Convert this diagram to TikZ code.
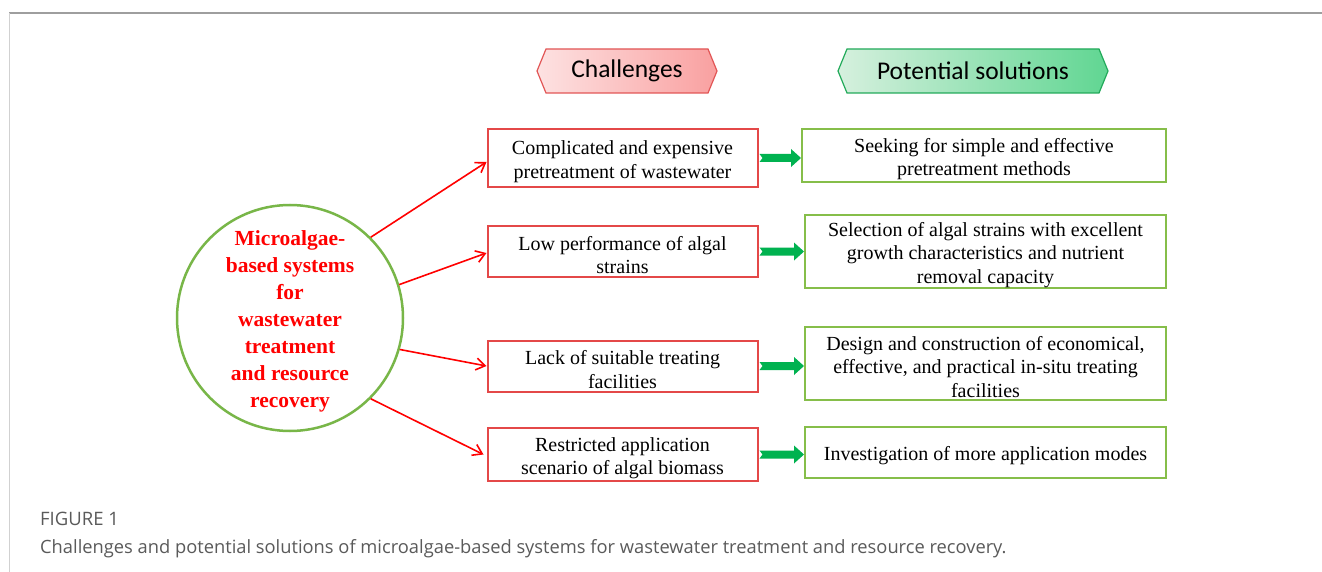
\documentclass[tikz,border=0pt]{standalone}
\usepackage{fontspec}
\setmainfont{Liberation Serif}
\newfontfamily\hdfont{Carlito}
\newfontfamily\capfont{Open Sans}
\usetikzlibrary{arrows.meta,calc,shapes.geometric}

\definecolor{boxred}{RGB}{228,72,72}
\definecolor{boxgreen}{RGB}{134,190,74}
\definecolor{ringgreen}{RGB}{120,182,72}
\definecolor{arrgreen}{RGB}{0,178,80}
\definecolor{hexredL}{RGB}{253,226,226}
\definecolor{hexredR}{RGB}{249,160,160}
\definecolor{hexredB}{RGB}{226,86,86}
\definecolor{hexgrnL}{RGB}{214,240,222}
\definecolor{hexgrnR}{RGB}{96,214,146}
\definecolor{hexgrnB}{RGB}{34,170,90}
\definecolor{capgray}{RGB}{90,90,90}

\tikzset{
  chbox/.style={draw=boxred, line width=2pt, minimum width=270pt, inner sep=0pt},
  solbox/.style={draw=boxgreen, line width=2pt, minimum width=361pt, inner sep=0pt},
  boxtext/.style={align=center, font=\fontsize{20}{23.5}\selectfont, inner sep=0pt},
  redarrow/.style={draw=red, line width=1.6pt, -{Straight Barb[length=9pt,width=12pt,line width=1.6pt]}},
  fatarrow/.style={fill=arrgreen, draw=none},
  hexlabel/.style={font=\hdfont\fontsize{25.5}{30}\selectfont, inner sep=0pt}
}

% green block arrow between two boxes, drawn as a polygon
\newcommand{\fatarr}[2]{%
  \path let \p1=(#1.east), \p2=(#2.west) in
    [fatarrow] (\x1+1pt,\y1-4pt) -- (\x2-10pt,\y1-4pt) -- (\x2-10pt,\y1-9pt)
    -- (\x2,\y1) -- (\x2-10pt,\y1+9pt) -- (\x2-10pt,\y1+4pt) -- (\x1+1pt,\y1+4pt)
    -- (\x1+4pt,\y1) -- cycle;}

\begin{document}
\begin{tikzpicture}[x=1pt,y=-1pt]
\useasboundingbox (0,0) rectangle (1322,572);
\fill[white] (0,0) rectangle (1322,572);

% panel frame
\draw[color=black!38, line width=1.4pt] (9,13) -- (1322,13);
\draw[color=black!18, line width=1pt] (9,13) -- (9,572);

% column headers (hexagons)
\shade[left color=hexredL, right color=hexredR, draw=hexredB, line width=1.2pt]
  (537,71) -- (546,49) -- (708,49) -- (717,71) -- (708,93) -- (546,93) -- cycle;
\node[hexlabel] (hch) at (627,71) {Challenges};
\shade[left color=hexgrnL, right color=hexgrnR, draw=hexgrnB, line width=1.2pt]
  (838,71) -- (847,49) -- (1099,49) -- (1108,71) -- (1099,93) -- (847,93) -- cycle;
\node[hexlabel] (hps) at (973,71) {Potential solutions};

% central circle
\node[circle, draw=ringgreen, line width=2.5pt, minimum size=226pt, inner sep=0pt] (c) at (290,318) {};
\node[align=center, text=red, font=\bfseries\fontsize{21.5}{27}\selectfont] (ct) at (290,321)
  {Microalgae-\\based systems\\for\\wastewater\\treatment\\and resource\\recovery};

% challenge boxes
\node[chbox, minimum height=58pt] (r1) at (622.5,158) {};
\node[chbox, minimum height=51pt] (r2) at (622.5,251.5) {};
\node[chbox, minimum height=51pt] (r3) at (622.5,366) {};
\node[chbox, minimum height=53pt] (r4) at (622.5,454.5) {};
\node[boxtext] (t1) at ([yshift=-3.5pt]r1.center) {Complicated and expensive\\pretreatment of wastewater};
\node[boxtext] (t2) at ([yshift=-3.5pt]r2.center) {Low performance of algal\\strains};
\node[boxtext] (t3) at ([yshift=-3.5pt]r3.center) {Lack of suitable treating\\facilities};
\node[boxtext] (t4) at ([yshift=-3.5pt]r4.center) {Restricted application\\scenario of algal biomass};

% solution boxes
\node[solbox, minimum width=364pt, minimum height=53pt] (g1) at (984,155.5) {};
\node[solbox, minimum height=73pt] (g2) at (985.5,251.5) {};
\node[solbox, minimum height=73pt] (g3) at (985.5,363.5) {};
\node[solbox, minimum height=51pt] (g4) at (985.5,452.5) {};
\node[boxtext] (s1) at ([yshift=-3.5pt]g1.center) {Seeking for simple and effective\\pretreatment methods};
\node[boxtext] (s2) at ([yshift=-3.5pt]g2.center) {Selection of algal strains with excellent\\growth characteristics and nutrient\\removal capacity};
\node[boxtext] (s3) at ([yshift=-3.5pt]g3.center) {Design and construction of economical,\\effective, and practical in-situ treating\\facilities};
\node[boxtext] (s4) at ([yshift=-3pt]g4.center) {Investigation of more application modes};

% circle to challenges
\draw[redarrow] (c.45) -- ([yshift=-4pt]r1.west);
\draw[redarrow] (c.17) -- ([yshift=-1.5pt]r2.west);
\draw[redarrow] (c.-16) -- (r3.west);
\draw[redarrow] (c.-45) -- ([xshift=-3pt]r4.west);

% challenges to solutions
\fatarr{r1}{g1}
\fatarr{r2}{g2}
\fatarr{r3}{g3}
\fatarr{r4}{g4}

% caption
\node[anchor=base west, inner sep=0pt, text=capgray, font=\capfont\fontsize{18.5}{22}\selectfont] (fig) at (40,525) {FIGURE 1};
\node[anchor=base west, inner sep=0pt, text=capgray, font=\capfont\fontsize{18.3}{22}\selectfont] (cap) at (40,553)
  {Challenges and potential solutions of microalgae-based systems for wastewater treatment and resource recovery.};
\end{tikzpicture}
\end{document}
